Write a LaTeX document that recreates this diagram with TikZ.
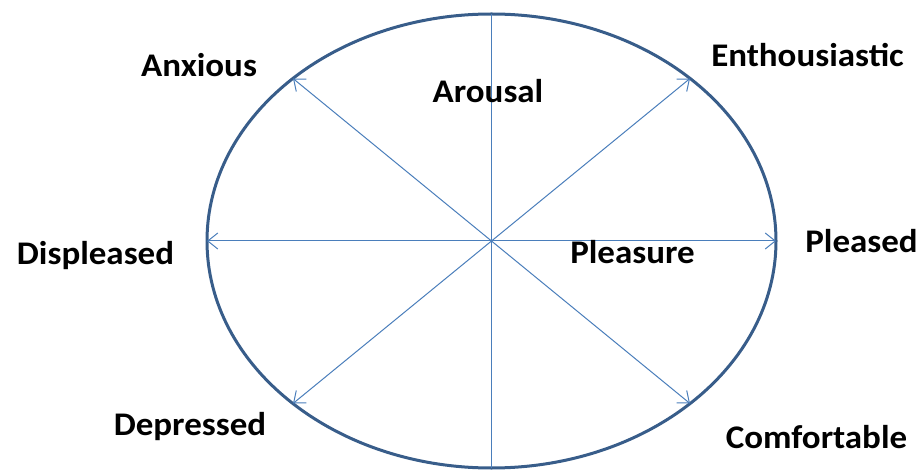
\documentclass[tikz,border=0pt]{standalone}
\usepackage{fontspec}
\setmainfont{Carlito}[FakeStretch=1.06]
\usetikzlibrary{arrows.meta}
\definecolor{rimblue}{HTML}{385D8A}
\definecolor{spokeblue}{HTML}{4A7EBB}
\tikzset{
  rim/.style={draw=rimblue, line width=3pt},
  spoke/.style={draw=spokeblue, line width=1pt},
  barb/.tip={Straight Barb[length=10pt,width=16pt,line width=1pt]},
  spokearrow/.style={spoke, -barb},
  lbl/.style={font=\fontsize{33}{38}\selectfont\bfseries, inner sep=0pt, text=black, anchor=base}
}
\begin{document}
\begin{tikzpicture}[x=1pt,y=-1pt]
\useasboundingbox (0,0) rectangle (923,470);
\coordinate (c) at (491.5,241);
\draw[rim] (c) ellipse [x radius=284.5, y radius=227];
\coordinate (n) at (491.5,14);
\coordinate (s) at (491.5,468);
\coordinate (e) at (776,241);
\coordinate (w) at (207,241);
\coordinate (ne) at (690,78.5);
\coordinate (nw) at (293,78.5);
\coordinate (se) at (690,403.5);
\coordinate (sw) at (293,403.5);
\draw[spoke] (n) -- (s);
\draw[spoke, barb-barb] (w) -- (e);
\draw[spokearrow] (c) -- (ne);
\draw[spokearrow] (c) -- (nw);
\draw[spokearrow] (c) -- (se);
\draw[spokearrow] (c) -- (sw);
\node[lbl] (anx) at (199,77) {Anxious};
\node[lbl] (aro) at (488,103) {Arousal};
\node[lbl] (ent) at (807.5,67) {Enthousiastic};
\node[lbl] (dis) at (95.5,265) {Displeased};
\node[lbl] (plr) at (632.5,264) {Pleasure};
\node[lbl] (pld) at (861.5,253) {Pleased};
\node[lbl] (dep) at (190,435) {Depressed};
\node[lbl] (com) at (816.5,448) {Comfortable};
\end{tikzpicture}
\end{document}
